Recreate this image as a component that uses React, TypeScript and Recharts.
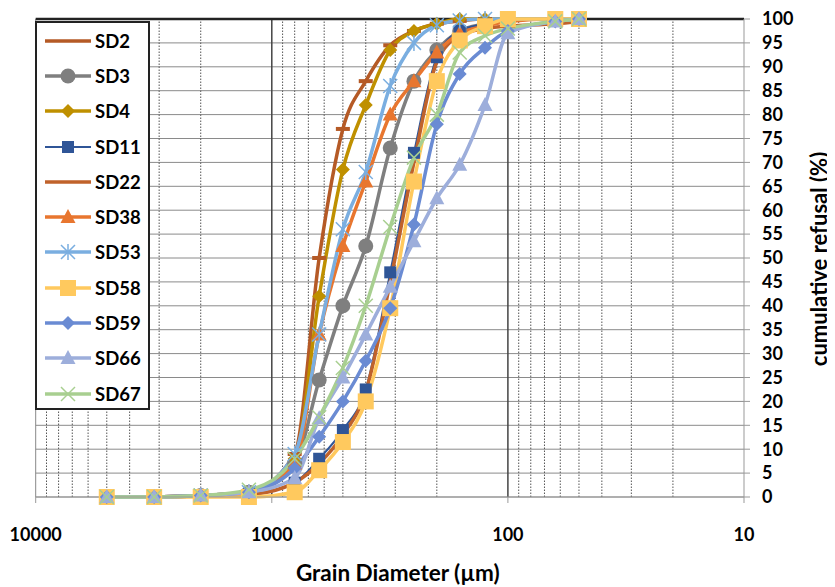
import React from "react";
import { LineChart, Line, XAxis, YAxis, CartesianGrid, ReferenceLine, Label } from "recharts";

const sizes = [5000, 3150, 2000, 1250, 800, 630, 500, 400, 315, 250, 200, 160, 125, 100, 63, 50];
const sd2 = [0, 0, 0.3, 1, 9, 50, 77, 87, 94.5, 97.5, 99, 99.6, 100, 100, 100, 100];
const sd3 = [0, 0, 0.3, 1, 7, 24.5, 40, 52.5, 73, 87, 93.5, 97.5, 99, 100, 100, 100];
const sd4 = [0, 0, 0.3, 1, 8, 42, 68.5, 82, 93.5, 97.5, 99, 100, 100, 100, 100, 100];
const sd11 = [0, 0, 0.2, 0.5, 3, 8, 14, 22.5, 47, 72, 92, 97.5, 99, 100, 100, 100];
const sd22 = [0, 0, 0.2, 0.5, 3, 7, 13, 22, 45, 70, 91, 96.5, 98, 98.5, 99, 99.5];
const sd38 = [0, 0, 0.3, 1, 7, 34, 52.5, 66, 80, 87, 93, 97, 98.5, 99.5, 100, 100];
const sd53 = [0, 0, 0.3, 1, 9, 34, 56, 68, 86, 95, 98.7, 99.7, 100, 100, 100, 100];
const sd58 = [0, 0, 0, 0, 1, 5.6, 11.5, 20, 39.5, 66, 87, 95.5, 98.5, 100, 100, 100];
const sd59 = [0, 0, 0.3, 1, 6, 12.6, 20, 28.5, 39.5, 57, 78, 88.5, 94, 97.5, 99.5, 100];
const sd66 = [0, 0, 0.3, 1, 4, 16.5, 25, 34, 44, 53.5, 62.5, 69.5, 82, 97, 99.5, 100];
const sd67 = [0, 0, 0.3, 1.5, 8, 16.7, 27, 40, 56.5, 71, 80, 93, 96.5, 98, 99.5, 100];

const xTicks = [10000, 1000, 100, 10];
const yTicks = [0, 5, 10, 15, 20, 25, 30, 35, 40, 45, 50, 55, 60, 65, 70, 75, 80, 85, 90, 95, 100];
const minorX = [9000, 8000, 7000, 6000, 5000, 4000, 3000, 2000, 900, 800, 700, 600, 500, 400, 300, 200, 90, 80, 70, 60, 50, 40, 30, 20];

const seriesValues: Record<string, number[]> = {
  SD2: sd2, SD3: sd3, SD4: sd4, SD11: sd11, SD22: sd22, SD38: sd38,
  SD53: sd53, SD58: sd58, SD59: sd59, SD66: sd66, SD67: sd67,
};

type Marker = "dash" | "circle" | "diamond" | "square" | "none" | "triangle" | "star" | "x" | "bigsquare";
const seriesStyle: { name: string; color: string; marker: Marker; width: number }[] = [
  { name: "SD2", color: "#B55A26", marker: "dash", width: 3.5 },
  { name: "SD3", color: "#7F7F7F", marker: "circle", width: 3.5 },
  { name: "SD4", color: "#BF9000", marker: "diamond", width: 3.5 },
  { name: "SD11", color: "#2F5597", marker: "square", width: 2 },
  { name: "SD22", color: "#C0622B", marker: "none", width: 3.5 },
  { name: "SD38", color: "#E8762F", marker: "triangle", width: 3.5 },
  { name: "SD53", color: "#7AAEE0", marker: "star", width: 3.5 },
  { name: "SD58", color: "#FFC95E", marker: "bigsquare", width: 3.5 },
  { name: "SD59", color: "#6A8BD3", marker: "diamond", width: 3.5 },
  { name: "SD66", color: "#9DAEDB", marker: "triangle", width: 3.5 },
  { name: "SD67", color: "#A8CF90", marker: "x", width: 3.5 },
];

const data = sizes.map((d, i) => {
  const row: Record<string, number> = { d };
  Object.keys(seriesValues).forEach((k) => (row[k] = seriesValues[k][i]));
  return row;
});

const FONT = "Lato, 'Open Sans', sans-serif";

function drawMarker(m: Marker, cx: number, cy: number, color: string, key?: any) {
  switch (m) {
    case "dash":
      return <rect key={key} x={cx - 7} y={cy - 2} width={14} height={4} fill={color} />;
    case "circle":
      return <circle key={key} cx={cx} cy={cy} r={7.5} fill={color} />;
    case "diamond":
      return <polygon key={key} points={`${cx},${cy - 7} ${cx + 7},${cy} ${cx},${cy + 7} ${cx - 7},${cy}`} fill={color} />;
    case "square":
      return <rect key={key} x={cx - 6} y={cy - 6} width={12} height={12} fill={color} />;
    case "bigsquare":
      return <rect key={key} x={cx - 8} y={cy - 8} width={16} height={16} fill={color} />;
    case "triangle":
      return <polygon key={key} points={`${cx},${cy - 8} ${cx + 7.5},${cy + 6} ${cx - 7.5},${cy + 6}`} fill={color} />;
    case "star":
      return (
        <g key={key} stroke={color} strokeWidth={1.5}>
          <line x1={cx - 7} y1={cy - 7} x2={cx + 7} y2={cy + 7} />
          <line x1={cx - 7} y1={cy + 7} x2={cx + 7} y2={cy - 7} />
          <line x1={cx} y1={cy - 8} x2={cx} y2={cy + 8} />
        </g>
      );
    case "x":
      return (
        <g key={key} stroke={color} strokeWidth={1.5}>
          <line x1={cx - 7} y1={cy - 7} x2={cx + 7} y2={cy + 7} />
          <line x1={cx - 7} y1={cy + 7} x2={cx + 7} y2={cy - 7} />
        </g>
      );
    default:
      return <g key={key} />;
  }
}

const LegendBox = () => (
  <div
    style={{
      position: "absolute",
      left: 27,
      top: 13,
      width: 115,
      height: 389,
      boxSizing: "border-box",
      border: "2px solid #222",
      background: "#fff",
      fontFamily: FONT,
    }}
  >
    {seriesStyle.map((s) => (
      <div key={s.name} style={{ height: 35.3, display: "flex", alignItems: "center" }}>
        <svg width={58} height={20} style={{ display: "block" }}>
          <line x1={8} y1={10} x2={54} y2={10} stroke={s.color} strokeWidth={s.width} />
          {s.marker !== "dash" && drawMarker(s.marker, 31, 10, s.color)}
        </svg>
        <span style={{ fontWeight: 700, fontSize: 18.5, color: "#000", marginLeft: 0 }}>{s.name}</span>
      </div>
    ))}
  </div>
);

export default function App() {
  return (
    <div style={{ position: "relative", width: 827, height: 579 }}>
      <LineChart width={827} height={579} data={data} margin={{ top: 11, right: 0, left: 27.7, bottom: 0 }}>
        <CartesianGrid vertical={false} stroke="#8a8a8a" strokeWidth={1} />
        {minorX.map((v) => (
          <ReferenceLine key={"m" + v} x={v} stroke="#555" strokeWidth={1} strokeDasharray="1.5 1.5" />
        ))}
        <ReferenceLine x={10000} stroke="#888" strokeWidth={1} />
        <ReferenceLine x={1000} stroke="#444" strokeWidth={1.5} />
        <ReferenceLine x={100} stroke="#444" strokeWidth={1.5} />
        <ReferenceLine y={100} stroke="#222" strokeWidth={2.5} />
        <XAxis
          dataKey="d"
          type="number"
          scale="log"
          domain={[10, 10000]}
          reversed
          ticks={xTicks}
          allowDataOverflow
          height={90}
          stroke="#999"
          tickSize={6}
          tickMargin={25}
          tick={{ fill: "#000", fontSize: 18, fontWeight: 700, fontFamily: FONT }}
          interval={0}
        >
          <Label
            content={(p: any) => (
              <text
                x={p.viewBox.x + p.viewBox.width / 2 + 8}
                y={573}
                textAnchor="middle"
                fontFamily={FONT}
                fontWeight={700}
                fontSize={22.5}
                fill="#000"
              >
                Grain Diameter (µm)
              </text>
            )}
          />
        </XAxis>
        <YAxis
          orientation="right"
          domain={[0, 100]}
          ticks={yTicks}
          interval={0}
          width={91}
          stroke="#999"
          tickSize={6}
          tickMargin={12}
          tick={{ fill: "#000", fontSize: 18, fontWeight: 700, fontFamily: FONT, textAnchor: "start" }}
        >
          <Label
            content={() => {
              const x = 819;
              const y = 251;
              return (
                <text
                  x={x}
                  y={y}
                  transform={`rotate(-90 ${x} ${y})`}
                  textAnchor="middle"
                  fontFamily={FONT}
                  fontWeight={700}
                  fontSize={22}
                  fill="#000"
                >
                  cumulative refusal (%)
                </text>
              );
            }}
          />
        </YAxis>
        {seriesStyle.map((s) => (
          <Line
            key={s.name}
            dataKey={s.name}
            name={s.name}
            stroke={s.color}
            strokeWidth={s.width}
            type="monotone"
            isAnimationActive={false}
            dot={(p: any) => drawMarker(s.marker, p.cx, p.cy, s.color, `${s.name}-${p.index}`)}
            activeDot={false}
          />
        ))}
      </LineChart>
      <LegendBox />
    </div>
  );
}
